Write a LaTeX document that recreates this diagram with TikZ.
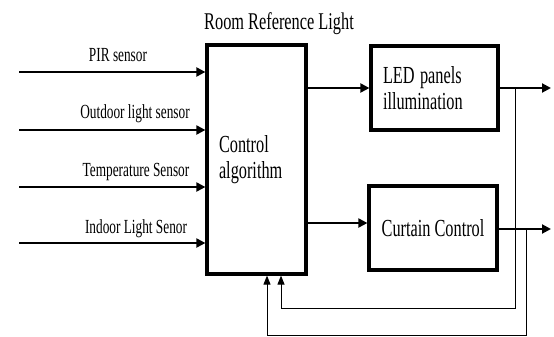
\documentclass[tikz,border=0pt]{standalone}
\usepackage{fontspec}
\setmainfont{Liberation Serif}
\usetikzlibrary{arrows.meta,calc}
\newcommand{\sqz}[1]{\scalebox{0.665}[1]{#1}}
\tikzset{
  blk/.style={draw, line width=3.2pt, inner xsep=12pt, inner ysep=0pt, font=\fontsize{24.5}{25.5}\selectfont},
  inlbl/.style={anchor=base, inner sep=0pt, font=\fontsize{20}{21}\selectfont},
  thick arrow/.style={line width=2pt, -{Triangle[length=9pt,width=9pt]}},
  fb arrow/.style={line width=1pt, -{Triangle[length=9pt,width=7pt]}},
}
\begin{document}
\begin{tikzpicture}[x=1pt,y=-1pt]
\useasboundingbox (0,0) rectangle (554,337);
% blocks
\node[blk, minimum width=99pt, minimum height=229pt, text width=75pt, align=left] (ctrl) at (256.5,159.5) {\sqz{Control}\\\sqz{algorithm}};
\node[blk, minimum width=127pt, minimum height=84pt, text width=103pt, align=left] (led) at (434.5,88) {\sqz{LED panels}\\\sqz{illumination}};
\node[blk, minimum width=128pt, minimum height=84pt, align=center] (cur) at (433,228) {\sqz{Curtain Control}};
% title
\node[anchor=base, inner sep=0pt, font=\fontsize{24}{25}\selectfont] (title) at (279,30) {\scalebox{0.68}[1]{Room Reference Light}};
% inputs
\coordinate (i1) at (19,72);
\coordinate (i2) at (19,130);
\coordinate (i3) at (19,187);
\coordinate (i4) at (19,243);
\draw[thick arrow] (i1) -- (i1 -| ctrl.west);
\draw[thick arrow] (i2) -- (i2 -| ctrl.west);
\draw[thick arrow] (i3) -- (i3 -| ctrl.west);
\draw[thick arrow] (i4) -- (i4 -| ctrl.west);
\node[inlbl] (l1) at (118,62) {\sqz{PIR sensor}};
\node[inlbl] (l2) at (135,118) {\sqz{Outdoor light sensor}};
\node[inlbl] (l3) at (136,176) {\sqz{Temperature Sensor}};
\node[inlbl] (l4) at (136,233) {\sqz{Indoor Light Senor}};
% control to blocks
\draw[thick arrow] (ctrl.east |- led.west) -- (led.west);
\coordinate (c2) at (0,223);
\draw[thick arrow] (ctrl.east |- c2) -- (cur.west |- c2);
% outputs
\coordinate (o1) at (551,88);
\coordinate (o2) at (551,229);
\draw[thick arrow] (led.east |- o1) -- (o1);
\draw[thick arrow] (cur.east |- o2) -- (o2);
% feedback
\coordinate (f1) at (515,88);
\coordinate (f1b) at (515,308);
\coordinate (f1c) at (281,308);
\draw[fb arrow] (f1) -- (f1b) -- (f1c) -- (f1c |- ctrl.south);
\coordinate (f2) at (526,229);
\coordinate (f2b) at (526,335.5);
\coordinate (f2c) at (267,335.5);
\draw[fb arrow] (f2) -- (f2b) -- (f2c) -- (f2c |- ctrl.south);
\end{tikzpicture}
\end{document}
